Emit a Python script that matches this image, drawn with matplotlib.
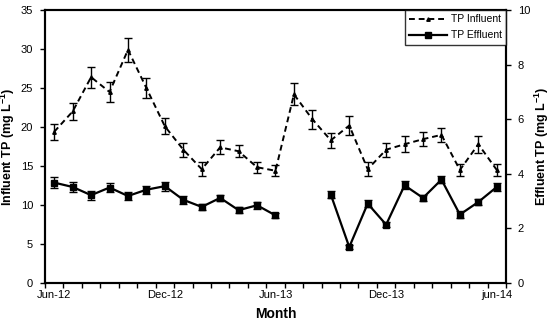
import numpy as np
import matplotlib
matplotlib.use("Agg")
import matplotlib.pyplot as plt
from matplotlib.lines import Line2D

plt.rcParams['font.family'] = ['Liberation Sans', 'DejaVu Sans']
plt.rcParams['mathtext.default'] = 'regular'

months = np.arange(25)
tick_labels = ["Jun-12", "Dec-12", "Jun-13", "Dec-13", "jun-14"]
tick_pos = [0, 6, 12, 18, 24]

influent = [19.4, 22.0, 26.4, 24.5, 29.9, 25.0, 20.1, 17.1, 14.6, 17.4, 16.9, 14.85, 14.4,
            24.2, 21.0, 18.3, 20.2, 14.6, 17.1, 17.8, 18.45, 19.0, 14.5, 17.8, 14.5]
influent_err = [1.0, 1.1, 1.35, 1.3, 1.5, 1.3, 1.05, 0.9, 0.9, 0.9, 0.8, 0.7, 0.7,
                1.4, 1.2, 1.0, 1.2, 0.9, 0.9, 1.0, 0.9, 0.9, 0.8, 1.1, 0.8]
effluent = [3.68, 3.52, 3.22, 3.50, 3.19, 3.42, 3.55, 3.05, 2.79, 3.12, 2.67, 2.85, 2.48,
            np.nan, np.nan, 3.24, 1.32, 2.91, 2.14, 3.58, 3.12, 3.79, 2.51, 2.97, 3.52]
effluent_err = [0.21, 0.18, 0.16, 0.18, 0.15, 0.15, 0.17, 0.15, 0.12, 0.12, 0.1, 0.12, 0.1,
                0, 0, 0.12, 0.08, 0.12, 0.1, 0.15, 0.12, 0.14, 0.12, 0.12, 0.13]

fig = plt.figure(figsize=(5.5, 3.25), dpi=100)
ax = fig.add_axes([0.0818, 0.129, 0.8382, 0.84])
ax2 = ax.twinx()

ax.errorbar(months, influent, yerr=influent_err, color='black', ls='--', lw=1.4,
            marker='^', ms=2.5, capsize=3, elinewidth=1, capthick=1, dashes=(3, 2))
ax2.errorbar(months, effluent, yerr=effluent_err, color='black', ls='-', lw=1.6,
             marker='s', ms=4.5, capsize=3, elinewidth=1, capthick=1)

ax.set_xlim(-0.5, 24.5)
ax.set_ylim(0, 35)
ax2.set_ylim(0, 10)
ax.set_yticks(np.arange(0, 36, 5))
ax2.set_yticks(np.arange(0, 11, 2))
ax.set_xticks(tick_pos)
ax.set_xticklabels(tick_labels)
ax.set_xticks(np.arange(-0.5, 25, 1), minor=True)
ax.tick_params(axis='x', which='major', length=0, labelsize=8, pad=5)
ax.tick_params(axis='x', which='minor', length=3.5, width=1, direction='out')
ax.tick_params(axis='y', length=3.5, width=1, labelsize=8, direction='out', pad=5)
ax2.tick_params(axis='y', length=3.5, width=1, labelsize=8, direction='out', pad=5)

for a in (ax, ax2):
    for s in a.spines.values():
        s.set_linewidth(1.5)

ax.set_xlabel('Month', fontsize=10, fontweight='bold', labelpad=5)
ax.set_ylabel('Influent TP (mg L$^{-1}$)', fontsize=9, fontweight='bold')
ax.yaxis.set_label_coords(-0.06, 0.5)
ax2.set_ylabel('Effluent TP (mg L$^{-1}$)', fontsize=9, fontweight='bold', rotation=90)
ax2.yaxis.set_label_coords(1.058, 0.5)

h1 = Line2D([], [], color='black', ls='--', lw=1.4, dashes=(3, 2), marker='^', ms=2.5)
h2 = Line2D([], [], color='black', ls='-', lw=1.6, marker='s', ms=4.5)
leg = ax2.legend(handles=[h1, h2], labels=['TP Influent', 'TP Effluent'],
                 loc='upper right', fontsize=7.5, frameon=True, numpoints=1,
                 fancybox=False, edgecolor='black', borderpad=0.4, handlelength=3.6,
                 borderaxespad=0, labelspacing=0.6, handletextpad=0.4)
leg.get_frame().set_linewidth(1.0)

fig.savefig('out.png', dpi=100)
